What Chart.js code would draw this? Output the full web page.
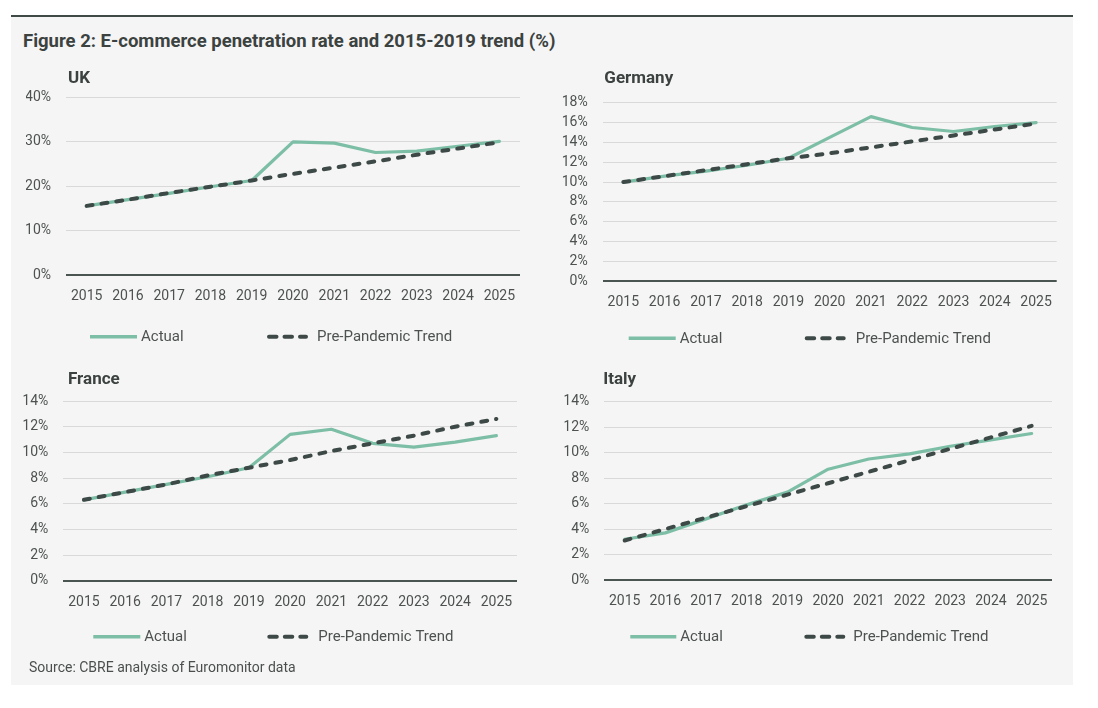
<!DOCTYPE html>
<html>
<head>
<meta charset="utf-8">
<script src="https://cdn.jsdelivr.net/npm/chart.js@4.4.1/dist/chart.umd.min.js"></script>
<style>
html,body{margin:0;padding:0;background:#ffffff;}
body{width:1098px;height:708px;position:relative;overflow:hidden;font-family:Roboto,"Liberation Sans",sans-serif;}
#panel{position:absolute;left:11px;top:15px;width:1062px;height:670px;background:#f5f5f5;border-top:2px solid #3f4a47;box-sizing:border-box;}
#title{position:absolute;left:23px;top:32px;line-height:18px;font-weight:bold;font-size:18.5px;color:#3b4240;white-space:nowrap;}
#source{position:absolute;left:29px;top:660px;line-height:14px;font-size:14px;color:#4a4f4d;white-space:nowrap;}
canvas{position:absolute;}
</style>
</head>
<body>
<div id="panel"></div>
<div id="title">Figure 2: E-commerce penetration rate and 2015-2019 trend (%)</div>
<canvas id="cUK" width="534" height="300" style="left:11px;top:60px"></canvas>
<canvas id="cDE" width="528" height="300" style="left:545px;top:60px"></canvas>
<canvas id="cFR" width="534" height="300" style="left:11px;top:360px"></canvas>
<canvas id="cIT" width="528" height="300" style="left:545px;top:360px"></canvas>
<div id="source">Source: CBRE analysis of Euromonitor data</div>
<script>
// ---- data ----
const years = ['2015','2016','2017','2018','2019','2020','2021','2022','2023','2024','2025'];
const seriesNames = ['Actual', 'Pre-Pandemic Trend'];
const chartTitles = ['UK', 'Germany', 'France', 'Italy'];

const ukActual = [15.6, 17.0, 18.4, 19.9, 21.3, 30.0, 29.7, 27.6, 27.9, 29.0, 30.1];
const ukTrend  = [15.6, 17.0, 18.5, 19.9, 21.3, 22.8, 24.2, 25.6, 27.1, 28.5, 29.9];
const deActual = [10.0, 10.6, 11.1, 11.7, 12.4, 14.5, 16.6, 15.5, 15.1, 15.6, 16.0];
const deTrend  = [10.0, 10.6, 11.2, 11.8, 12.4, 12.9, 13.5, 14.1, 14.7, 15.3, 15.9];
const frActual = [6.3, 6.9, 7.5, 8.1, 8.8, 11.4, 11.8, 10.7, 10.4, 10.8, 11.3];
const frTrend  = [6.3, 6.9, 7.5, 8.2, 8.8, 9.4, 10.1, 10.7, 11.3, 12.0, 12.6];
const itActual = [3.2, 3.7, 4.8, 5.9, 6.9, 8.7, 9.5, 9.9, 10.5, 11.0, 11.5];
const itTrend  = [3.1, 4.0, 4.9, 5.8, 6.7, 7.6, 8.5, 9.4, 10.3, 11.2, 12.1];

const yMaxes = [40, 18, 14, 14];
const ySteps = [10, 2, 2, 2];

// ---- layout / style ----
const FONT = 'Roboto, "Liberation Sans", sans-serif';
const TEXT = '#4d5250';
const ACTUAL_COLOR = '#7dbea6';
const TREND_COLOR = '#3d4946';
const Y_AXIS_W = 40, X_AXIS_H = 40;

const panels = [
  {id:'cUK', cx:11,  cy:60,  cw:534, ch:300, L:66,    R:520,    T:97.3,  B:275.3,
   title:[2,-18.5], legendDy:61.4, legend:[[24,71,75],[201,240,251]]},
  {id:'cDE', cx:545, cy:60,  cw:528, ch:300, L:602.7, R:1056.7, T:102.7, B:281.3,
   title:[1.6,-24.4], legendDy:57, legend:[[26,73,77],[202,241,253]]},
  {id:'cFR', cx:11,  cy:360, cw:534, ch:300, L:63.3,  R:517,    T:401,   B:580.7,
   title:[4.7,-21.7], legendDy:56, legend:[[30,77,81],[204,243,255]]},
  {id:'cIT', cx:545, cy:360, cw:528, ch:300, L:604.3, R:1052,   T:401.7, B:580,
   title:[-1,-22.4], legendDy:56.7, legend:[[26,72,76],[200,239,249]]}
];

const dataSets = [[ukActual, ukTrend],[deActual, deTrend],[frActual, frTrend],[itActual, itTrend]];

const decor = {
  id: 'decor',
  afterDraw(chart, args, o) {
    const {ctx, chartArea: a} = chart;
    ctx.save();
    ctx.textBaseline = 'middle';
    ctx.textAlign = 'left';
    ctx.font = 'bold 17px ' + FONT;
    ctx.fillStyle = '#3b4240';
    ctx.fillText(o.title, a.left + o.titlePos[0], a.top + o.titlePos[1]);
    const y = a.bottom + o.legendDy;
    chart.data.datasets.forEach((ds, i) => {
      const p = o.legend[i];
      ctx.beginPath();
      ctx.strokeStyle = ds.borderColor;
      if (i === 1) {
        ctx.lineWidth = 4; ctx.lineCap = 'round'; ctx.setLineDash([7.5, 8]);
        ctx.moveTo(a.left + p[0] + 2, y); ctx.lineTo(a.left + p[1], y);
      } else {
        ctx.lineWidth = 3.5; ctx.lineCap = 'butt'; ctx.setLineDash([]);
        ctx.moveTo(a.left + p[0], y); ctx.lineTo(a.left + p[1], y);
      }
      ctx.stroke();
      ctx.setLineDash([]);
      ctx.font = '15px ' + FONT;
      ctx.fillStyle = TEXT;
      ctx.fillText(ds.label, a.left + p[2], y + 0.5);
    });
    ctx.restore();
  }
};

Chart.defaults.font.family = FONT;

panels.forEach((p, k) => {
  const [act, trend] = dataSets[k];
  new Chart(document.getElementById(p.id), {
    type: 'line',
    data: {
      labels: years,
      datasets: [
        {label: seriesNames[0], data: act, borderColor: ACTUAL_COLOR, backgroundColor: ACTUAL_COLOR,
         borderWidth: 3.2, pointRadius: 0, tension: 0, borderCapStyle: 'round', borderJoinStyle: 'round', order: 2},
        {label: seriesNames[1], data: trend, borderColor: TREND_COLOR, backgroundColor: TREND_COLOR,
         borderWidth: 4, borderDash: [6, 9], borderCapStyle: 'round', pointRadius: 0, tension: 0, order: 1}
      ]
    },
    options: {
      responsive: false,
      animation: false,
      devicePixelRatio: 1,
      layout: {padding: {
        left: p.L - p.cx - Y_AXIS_W,
        right: p.cx + p.cw - p.R,
        top: p.T - p.cy,
        bottom: p.cy + p.ch - p.B - X_AXIS_H
      }},
      plugins: {
        legend: {display: false},
        tooltip: {enabled: false},
        title: {display: false},
        decor: {title: chartTitles[k], titlePos: p.title, legendDy: p.legendDy, legend: p.legend}
      },
      scales: {
        x: {
          offset: true,
          grid: {display: false, drawTicks: false},
          border: {display: false},
          ticks: {padding: 13, color: TEXT, font: {size: 14}, maxRotation: 0, autoSkip: false},
          afterFit: s => { s.height = X_AXIS_H; }
        },
        y: {
          min: 0, max: yMaxes[k],
          ticks: {stepSize: ySteps[k], padding: 15, color: TEXT, font: {size: 14}, callback: v => v + '%'},
          grid: {
            drawTicks: false,
            color: c => (c.tick && c.tick.value === 0) ? '#4a5451' : '#d9d9d9',
            lineWidth: c => (c.tick && c.tick.value === 0) ? 2 : 1
          },
          border: {display: false},
          afterFit: s => { s.width = Y_AXIS_W; }
        }
      }
    },
    plugins: [decor]
  });
});
</script>
</body>
</html>
